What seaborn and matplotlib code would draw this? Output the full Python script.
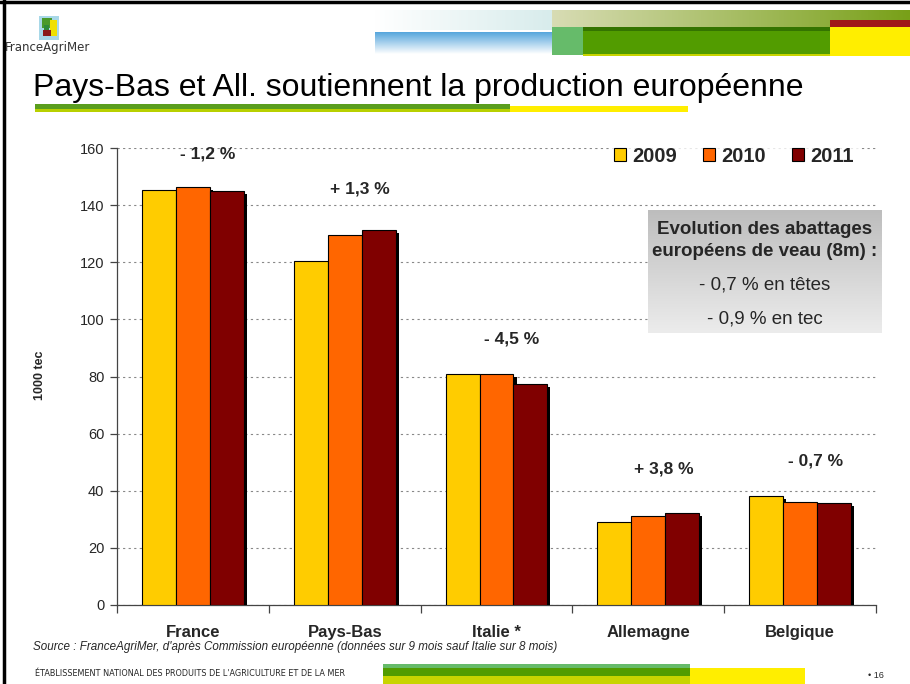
import numpy as np
import pandas as pd
import matplotlib.pyplot as plt
import seaborn as sns
from matplotlib import patheffects
from matplotlib.patches import Rectangle
from matplotlib.lines import Line2D

# ------------------ Data --------------------
pays = ["France", "Pays-Bas", "Italie *", "Allemagne", "Belgique"]
annees = ["2009", "2010", "2011"]
v2009 = [145.4, 120.6, 80.8, 29.1, 38.2]
v2010 = [146.5, 129.4, 80.8, 31.0, 36.1]
v2011 = [144.8, 131.3, 77.3, 32.2, 35.7]
evolution = ["- 1,2 %", "+ 1,3 %", "- 4,5 %", "+ 3,8 %", "- 0,7 %"]
evol_y = [158, 145.5, 93, 47.5, 50.5]

couleurs = ["#FFCC00", "#FF6600", "#800000"]

df = pd.DataFrame({
    "pays": pays * 3,
    "annee": [a for a in annees for _ in pays],
    "valeur": v2009 + v2010 + v2011,
})

sns.set_style("white")
plt.rcParams["font.family"] = ["Liberation Sans", "DejaVu Sans"]

W, H = 910, 684
fig = plt.figure(figsize=(W / 100, H / 100), dpi=100)


def fx(px):
    return px / W


def fy(py):
    return 1 - py / H


def rect(x0, y0, x1, y1, color, z=1):
    fig.add_artist(Rectangle((fx(x0), fy(y1)), fx(x1) - fx(x0), fy(y0) - fy(y1),
                             transform=fig.transFigure, facecolor=color,
                             edgecolor="none", zorder=z))


def gradient(x0, y0, x1, y1, c0, c1, horizontal=True):
    a = fig.add_axes([fx(x0), fy(y1), fx(x1) - fx(x0), fy(y0) - fy(y1)])
    a.axis("off")
    t = np.linspace(0, 1, 256)
    c0 = np.array(plt.matplotlib.colors.to_rgb(c0))
    c1 = np.array(plt.matplotlib.colors.to_rgb(c1))
    img = c0[None, :] * (1 - t[:, None]) + c1[None, :] * t[:, None]
    if horizontal:
        img = img[None, :, :]
    else:
        img = img[:, None, :]
    a.imshow(img, aspect="auto", extent=[0, 1, 0, 1] if horizontal else [0, 1, 1, 0])
    return a


# ------------------ Slide decorations --------------------
fig.add_artist(Line2D([fx(4), fx(4)], [0, 1], color="black", lw=2.5, transform=fig.transFigure))
fig.add_artist(Line2D([0, 1], [fy(2), fy(2)], color="black", lw=2.5, transform=fig.transFigure))

gradient(375, 10, 552, 30, "#ffffff", "#d8ecec")
gradient(375, 32, 552, 54, "#55a5dc", "#ffffff", horizontal=False)
gradient(552, 10, 910, 27, "#d8dcb4", "#78a018")
rect(552, 27, 583, 55, "#66bb6a")
rect(583, 27, 830, 56, "#c8d400")
rect(583, 27, 830, 54, "#529c00")
rect(583, 27, 830, 31, "#347400")
rect(830, 20, 910, 27, "#a01818")
rect(830, 27, 910, 56, "#ffee00")

# logo
rect(39, 16, 59, 40, "#a8d8e8")
rect(42, 18, 52, 28, "#4a9a2a")
rect(50, 20, 57, 36, "#f0e000")
rect(43, 30, 51, 36, "#8b1a1a")
rect(44, 25, 49, 30, "#2e8b3a")
fig.text(fx(5), fy(48), "FranceAgriMer", fontsize=8.5, color="#333333",
         family=["Liberation Sans Narrow", "DejaVu Sans"], va="center", ha="left")

fig.text(fx(33), fy(88), "Pays-Bas et All. soutiennent la production européenne",
         fontsize=23, va="center", ha="left", color="black")
rect(35, 104, 510, 112, "#b8d000")
rect(35, 104, 510, 109, "#5a9e1e")
rect(510, 106, 688, 112, "#ffee00")

# footer
rect(383, 664, 690, 684, "#c8d400")
rect(383, 664, 690, 676, "#529c00")
rect(383, 664, 690, 668, "#66bb6a")
rect(690, 668, 805, 684, "#ffee00")
fig.text(fx(35), fy(673), "ÉTABLISSEMENT NATIONAL DES PRODUITS DE L'AGRICULTURE ET DE LA MER",
         fontsize=5.9, family=["Liberation Sans Narrow", "DejaVu Sans"], va="center", ha="left")
fig.text(fx(868), fy(676), "• 16", fontsize=6.5, va="center", ha="left")

# ------------------ Chart --------------------
ax = fig.add_axes([fx(117), fy(605), fx(876) - fx(117), fy(148) - fy(605)])
sns.barplot(data=df, x="pays", y="valeur", hue="annee", palette=couleurs, saturation=1,
            width=0.67, gap=0, edgecolor="black", linewidth=0.8, ax=ax, zorder=3)
for p in ax.patches:
    p.set_path_effects([patheffects.SimplePatchShadow(offset=(2.2, -2.2), shadow_rgbFace="black", alpha=1.0),
                        patheffects.Normal()])

ax.set_ylim(0, 160)
ax.set_xlim(-0.5, 4.5)
ax.set_yticks(np.arange(0, 161, 20))
ax.yaxis.grid(True, linestyle=(0, (2, 3)), color="#888888", lw=0.8)
ax.set_axisbelow(True)
for s in ["top", "right"]:
    ax.spines[s].set_visible(False)
for s in ["left", "bottom"]:
    ax.spines[s].set_color("#444444")
    ax.spines[s].set_linewidth(0.9)
ax.tick_params(axis="y", left=True, length=5, width=0.9, color="#444444", labelsize=10.5, pad=4)
ax.set_xticks(range(5))
ax.set_xticklabels(pays, fontweight="bold", fontsize=12)
ax.tick_params(axis="x", bottom=False, pad=11)
ax.set_xticks(np.arange(-0.5, 5, 1), minor=True)
ax.tick_params(axis="x", which="minor", bottom=True, length=6, width=0.9, color="#444444")
ax.set_xlabel("")
ax.set_ylabel("")
fig.text(fx(40), fy(375), "1000 tec", rotation=90, fontsize=9, fontweight="bold", va="center", ha="center")

for i, (txt, yy) in enumerate(zip(evolution, evol_y)):
    ax.text(i + 0.1, yy, txt, ha="center", va="center", fontsize=12.5, fontweight="bold", zorder=5)

leg = ax.legend(loc="center", bbox_to_anchor=(fx(734), fy(156)), bbox_transform=fig.transFigure,
                ncol=3, frameon=True, facecolor="white", edgecolor="white", fancybox=False,
                prop={"weight": "bold", "size": 14.5}, handlelength=0.6, handleheight=0.6,
                columnspacing=1.3, handletextpad=0.3, borderpad=0.2, title=None)
leg.set_zorder(6)
for h in leg.legend_handles:
    h.set_path_effects([])

# annotation box
box = gradient(648, 210, 882, 333, "#bdbdbd", "#ececec", horizontal=False)
box.set_zorder(7)
fig.text(fx(765), fy(230), "Evolution des abattages", fontsize=13.5, fontweight="bold", ha="center", va="center", zorder=8)
fig.text(fx(765), fy(252), "européens de veau (8m) :", fontsize=13.5, fontweight="bold", ha="center", va="center", zorder=8)
fig.text(fx(765), fy(285), "- 0,7 % en têtes", fontsize=13.5, ha="center", va="center", zorder=8)
fig.text(fx(765), fy(319), "- 0,9 % en tec", fontsize=13.5, ha="center", va="center", zorder=8)

fig.text(fx(33), fy(647), "Source : FranceAgriMer, d'après Commission européenne (données sur 9 mois sauf Italie sur 8 mois)",
         fontsize=8.4, style="italic", ha="left", va="center")

plt.savefig("out.png", dpi=100)
